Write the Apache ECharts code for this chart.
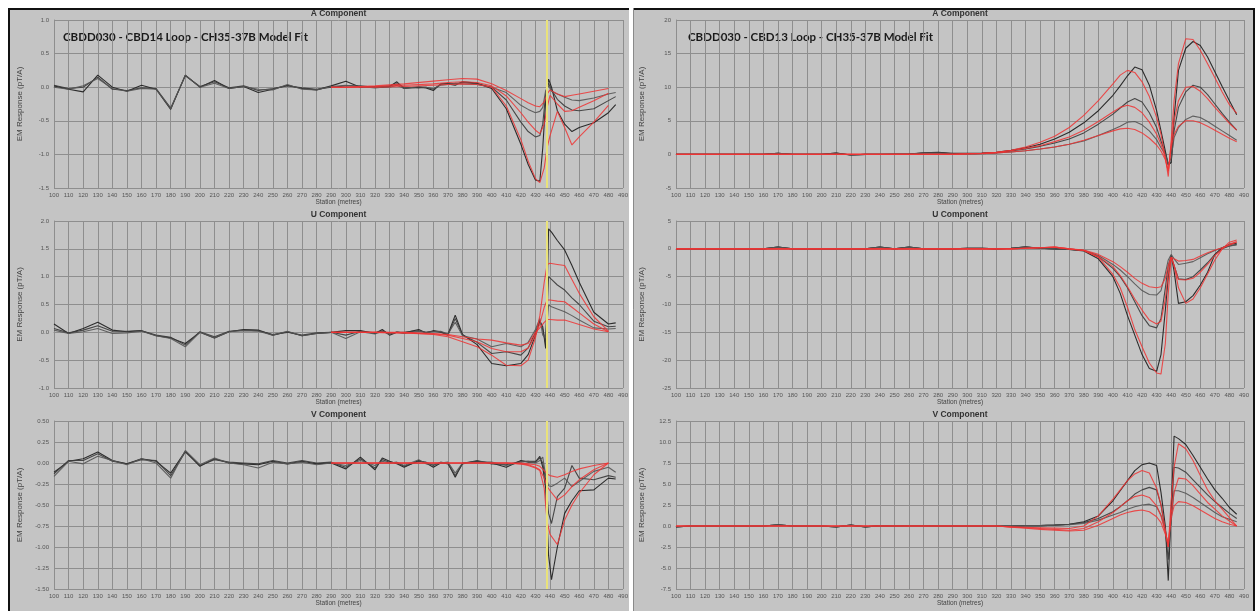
<!DOCTYPE html>
<html>
<head>
<meta charset="utf-8">
<script src="https://cdn.jsdelivr.net/npm/echarts@6/dist/echarts.min.js"></script>
<style>
html,body{margin:0;padding:0;background:#fff}
#chart{width:1257px;height:611px}
</style>
</head>
<body>
<div id="chart"></div>
<script>
// stations (metres)
var L_obsX = [100,110,120,130,140,150,160,170,180,190,200,210,220,230,240,250,260,270,280,290,
  300,310,320,325,330,335,340,350,355,360,365,370,375,380,390,400,410,420,425,430,
  433,435,437,439,441,445,450,455,460,470,480,485];
var L_modX = [290,300,320,340,360,370,380,390,400,410,420,425,430,433,436,438,440,445,450,455,460,470,480];
var R_x = [100,110,120,130,140,150,160,170,180,190,200,210,220,230,240,250,260,270,280,290,300,310,320,
  330,340,350,360,370,380,390,400,405,410,415,420,425,430,433,436,438,440,442,445,
  450,455,460,465,470,475,480,485];

// CBD14 loop - A component
var LA_obs1 = [0.02,-0.03,-0.07,0.18,0.0,-0.06,0.03,-0.03,-0.33,0.18,0.0,0.10,-0.02,0.01,-0.08,-0.03,0.03,-0.02,-0.04,0.02,
  0.09,0.0,0.01,0.0,0.01,0.08,-0.02,0.0,-0.01,-0.05,0.05,0.05,0.03,0.08,0.06,-0.02,-0.32,-0.85,-1.15,-1.38,
  -1.40,-0.9,-0.2,0.12,0.0,-0.35,-0.55,-0.66,-0.6,-0.53,-0.38,-0.26];
var LA_obs2 = [0.03,-0.02,0.0,0.15,-0.03,-0.05,-0.01,-0.02,-0.31,0.17,0.01,0.08,-0.01,0.02,-0.05,-0.02,0.02,-0.01,-0.03,0.0,
  0.02,0.02,0.0,0.01,0.02,0.05,0.0,-0.01,0.0,-0.03,0.04,0.06,0.05,0.07,0.05,0.0,-0.19,-0.52,-0.66,-0.74,
  -0.72,-0.55,-0.1,0.06,-0.04,-0.18,-0.28,-0.34,-0.35,-0.32,-0.2,-0.14];
var LA_obs3 = [0.0,-0.03,0.02,0.13,-0.02,-0.06,-0.02,-0.03,-0.32,0.18,0.0,0.06,-0.02,0.01,-0.03,-0.04,0.04,-0.03,-0.04,0.01,
  0.03,0.01,-0.01,0.0,0.0,0.03,-0.02,0.01,0.0,-0.02,0.03,0.04,0.06,0.05,0.04,0.0,-0.08,-0.27,-0.33,-0.38,
  -0.36,-0.3,-0.05,0.02,-0.06,-0.1,-0.15,-0.19,-0.2,-0.16,-0.1,-0.08];
var LA_mod1 = [0,0,0,0.01,0.03,0.04,0.05,0.04,0.0,-0.28,-0.78,-1.1,-1.36,-1.42,-1.2,-0.9,-0.72,-0.36,-0.6,-0.86,-0.74,-0.52,-0.27];
var LA_mod2 = [0,0,0.01,0.03,0.05,0.07,0.08,0.07,0.02,-0.13,-0.38,-0.52,-0.64,-0.69,-0.55,-0.3,-0.12,-0.25,-0.36,-0.35,-0.3,-0.2,-0.09];
var LA_mod3 = [0,0,0.02,0.05,0.09,0.11,0.13,0.12,0.05,-0.05,-0.17,-0.23,-0.28,-0.29,-0.22,-0.1,-0.04,-0.1,-0.14,-0.12,-0.1,-0.06,-0.02];

// CBD14 loop - U component
var LU_obs1 = [0.15,-0.02,0.07,0.18,0.04,0.01,0.03,-0.06,-0.1,-0.2,0.0,-0.1,0.01,0.05,0.04,-0.05,0.01,-0.06,-0.02,0.0,
  0.03,0.03,-0.02,0.05,-0.05,0.0,-0.01,0.05,-0.01,0.03,0.01,-0.04,0.31,-0.04,-0.22,-0.56,-0.6,-0.56,-0.4,-0.05,
  0.2,0.1,-0.29,1.86,1.8,1.65,1.48,1.2,0.9,0.36,0.15,0.17];
var LU_obs2 = [0.07,-0.01,0.04,0.12,0.02,0.02,0.03,-0.05,-0.09,-0.23,0.01,-0.08,0.02,0.04,0.03,-0.04,0.0,-0.05,-0.01,0.0,
  -0.05,0.02,-0.01,0.03,-0.03,0.0,0.0,0.03,0.0,0.02,0.0,-0.05,0.25,-0.05,-0.18,-0.38,-0.35,-0.41,-0.28,0.0,
  0.22,0.05,-0.2,1.0,0.95,0.85,0.76,0.62,0.5,0.2,0.1,0.11];
var LU_obs3 = [0.04,-0.02,0.01,0.07,-0.02,-0.01,0.02,-0.06,-0.11,-0.26,0.0,-0.1,0.01,0.03,0.02,-0.05,0.02,-0.06,-0.02,0.0,
  -0.11,0.01,-0.03,0.02,-0.04,0.01,-0.02,0.02,0.0,0.01,0.02,-0.03,0.18,-0.06,-0.12,-0.26,-0.2,-0.26,-0.18,0.05,
  0.25,-0.05,-0.1,0.49,0.46,0.42,0.37,0.3,0.22,0.08,0.06,0.07];
var LU_mod1 = [0,0,0,-0.01,-0.04,-0.08,-0.17,-0.26,-0.41,-0.59,-0.6,-0.5,-0.1,0.3,0.9,1.22,1.24,1.22,1.2,0.95,0.7,0.28,0.02];
var LU_mod2 = [0,0,0,-0.01,-0.03,-0.05,-0.11,-0.17,-0.29,-0.35,-0.35,-0.28,-0.05,0.15,0.45,0.58,0.58,0.56,0.55,0.45,0.35,0.15,0.01];
var LU_mod3 = [0,0,0,0,-0.02,-0.04,-0.08,-0.12,-0.14,-0.19,-0.23,-0.2,0.0,0.08,0.18,0.23,0.23,0.22,0.22,0.18,0.14,0.06,0.01];

// CBD14 loop - V component
var LV_obs1 = [-0.11,0.02,0.05,0.13,0.03,-0.01,0.05,0.02,-0.12,0.14,-0.04,0.05,0.0,-0.01,-0.02,0.02,-0.01,0.02,-0.01,0.0,
  -0.07,0.07,-0.08,0.06,0.02,-0.01,-0.05,0.03,0.0,-0.05,0.0,0.0,-0.17,0.0,0.02,0.0,-0.05,0.03,0.01,0.01,
  0.08,-0.05,-0.3,-1.1,-1.39,-1.0,-0.6,-0.45,-0.33,-0.32,-0.18,-0.19];
var LV_obs2 = [-0.13,0.03,0.03,0.11,0.02,-0.01,0.04,0.03,-0.15,0.13,-0.03,0.04,0.01,0.0,-0.01,0.03,0.0,0.03,0.0,0.01,
  -0.05,0.05,-0.06,0.04,0.01,0.0,-0.04,0.02,0.01,-0.03,0.01,-0.01,-0.15,-0.01,0.03,-0.01,-0.02,0.02,0.02,0.02,
  0.06,0.0,-0.2,-0.6,-0.72,-0.4,-0.3,-0.03,-0.18,-0.2,-0.15,-0.17];
var LV_obs3 = [-0.16,0.02,-0.01,0.08,0.03,-0.02,0.05,0.0,-0.18,0.15,-0.02,0.06,0.0,-0.02,-0.06,0.01,-0.01,0.01,-0.02,0.0,
  -0.03,0.03,-0.03,0.02,0.0,0.01,-0.03,0.04,-0.01,-0.02,0.0,0.01,-0.12,0.0,0.01,0.01,-0.03,0.01,0.02,0.0,
  0.03,0.07,-0.15,-0.27,-0.28,-0.24,-0.18,-0.28,-0.22,-0.1,-0.05,-0.11];
var LV_mod1 = [0,0,0,0,0,0,0,0,0,0,-0.01,-0.03,-0.06,-0.09,-0.3,-0.7,-0.85,-0.97,-0.68,-0.5,-0.36,-0.14,0.0];
var LV_mod2 = [0,0,0,0,0,0,0,0,0,0,-0.01,-0.02,-0.05,-0.08,-0.18,-0.28,-0.33,-0.44,-0.38,-0.28,-0.2,-0.08,0.0];
var LV_mod3 = [0,0,0,0,0,0,0,0,0,0,0,-0.01,-0.02,-0.04,-0.09,-0.13,-0.15,-0.17,-0.14,-0.1,-0.07,-0.03,0.0];

// CBD13 loop - A component
var RA_obs1 = [0,0,0,0,0,0,0,0.15,0,0,0,0.2,-0.1,0,0,0.05,0.05,0.25,0.3,0.15,0.15,0.2,0.3,
  0.6,1.0,1.5,2.3,3.3,4.7,6.5,8.8,10.2,11.7,13.0,12.6,10.3,6.5,3.5,0.5,-1.6,-1.2,5.5,12.5,
  15.8,16.8,16.2,14.5,12.3,10.1,8.0,5.9];
var RA_obs2 = [0,0,0,0,0,0,0,0.15,0,0,0,0.2,-0.1,0,0,0,0.05,0.2,0.25,0.1,0.1,0.15,0.25,
  0.5,0.8,1.2,1.7,2.3,3.2,4.5,6.0,6.9,7.8,8.3,7.8,6.2,4.0,2.0,0.2,-1.5,-1.2,3.5,7.0,
  9.3,10.3,10.0,8.9,7.5,6.1,4.8,3.6];
var RA_obs3 = [0,0,0,0,0,0,0,0.15,0,0,0,0.15,-0.1,0,0,0,0.05,0.2,0.2,0.1,0.05,0.1,0.2,
  0.35,0.55,0.8,1.1,1.5,2.0,2.8,3.7,4.2,4.8,4.9,4.4,3.5,2.2,1.0,0.0,-1.5,-0.5,2.5,4.0,
  5.2,5.7,5.5,4.9,4.2,3.5,2.8,2.1];
var RA_mod1 = [0,0,0,0,0,0,0,0,0,0,0,0,0,0,0,0,0,0,0,0,0.1,0.15,0.3,
  0.6,1.1,1.8,2.7,4.0,5.8,8.0,10.5,11.8,12.5,12.2,10.8,8.6,5.5,3.0,-0.5,-3.3,2.0,8.0,13.5,
  17.2,17.1,15.5,13.5,11.4,9.3,7.4,6.1];
var RA_mod2 = [0,0,0,0,0,0,0,0,0,0,0,0,0,0,0,0,0,0,0,0,0.1,0.15,0.3,
  0.55,0.9,1.3,1.9,2.6,3.6,4.9,6.3,7.0,7.3,7.0,6.2,4.8,3.0,1.5,-0.5,-2.5,1.5,5.0,8.0,
  10.0,10.1,9.4,8.3,7.0,5.8,4.6,3.6];
var RA_mod3 = [0,0,0,0,0,0,0,0,0,0,0,0,0,0,0,0,0,0,0,0,0.05,0.1,0.2,
  0.35,0.55,0.8,1.1,1.5,2.1,2.8,3.5,3.8,3.9,3.7,3.2,2.4,1.4,0.5,-0.8,-2.5,1.0,3.0,4.2,
  5.0,5.0,4.7,4.2,3.6,3.0,2.4,1.9];

// CBD13 loop - U component
var RU_obs1 = [0,0,0,0,0,0,0,0.3,0,0,0,0,0,0,0.3,0,0.3,0,0,0,0.1,0.1,0.0,
  0.1,0.35,0.1,0.0,-0.1,-0.4,-1.8,-5.0,-8.0,-12.0,-15.5,-19.0,-21.5,-22.0,-19.0,-11.0,-5.0,-1.2,-4.0,-9.8,
  -9.5,-8.4,-6.5,-4.2,-1.0,0.2,0.8,1.0];
var RU_obs2 = [0,0,0,0,0,0,0,0.3,0,0,0,0,0,0,0.3,0,0.3,0,0,0,0.1,0.1,0.0,
  0.1,0.3,0.1,0.0,-0.1,-0.3,-1.4,-3.5,-5.0,-7.0,-9.5,-12.0,-13.8,-14.2,-12.5,-7.0,-3.0,-1.2,-3.0,-5.4,
  -5.5,-5.0,-3.8,-2.5,-1.0,0.0,0.5,0.8];
var RU_obs3 = [0,0,0,0,0,0,0,0.3,0,0,0,0,0,0,0.3,0,0.3,0,0,0,0.1,0.1,0.0,
  0.1,0.3,0.1,0.0,-0.05,-0.25,-1.2,-2.8,-3.8,-5.0,-6.3,-7.5,-8.2,-8.3,-7.5,-4.4,-2.0,-1.0,-1.8,-2.8,
  -2.6,-2.3,-1.6,-0.9,-0.3,0.2,0.5,0.7];
var RU_mod1 = [0,0,0,0,0,0,0,0,0,0,0,0,0,0,0,0,0,0,0,0,0,0,0,
  0.0,0.1,0.2,0.3,0.0,-0.3,-1.5,-4.6,-7.0,-10.5,-14.5,-17.6,-20.5,-22.3,-22.5,-17.0,-8.0,-1.5,-3.0,-7.0,
  -9.8,-9.0,-7.0,-4.5,-2.0,0.0,1.2,1.6];
var RU_mod2 = [0,0,0,0,0,0,0,0,0,0,0,0,0,0,0,0,0,0,0,0,0,0,0,
  0.0,0.1,0.2,0.3,0.0,-0.3,-1.4,-3.2,-4.8,-6.8,-9.0,-11.0,-12.8,-13.5,-13.0,-9.0,-4.5,-1.5,-3.0,-5.5,
  -5.6,-5.3,-4.2,-2.8,-1.2,0.0,0.8,1.3];
var RU_mod3 = [0,0,0,0,0,0,0,0,0,0,0,0,0,0,0,0,0,0,0,0,0,0,0,
  0.0,0.1,0.2,0.3,0.0,-0.2,-1.0,-2.3,-3.2,-4.2,-5.3,-6.2,-6.8,-7.0,-6.8,-5.3,-3.0,-1.5,-1.8,-2.2,
  -2.1,-1.9,-1.3,-0.7,-0.2,0.2,0.7,1.2];

// CBD13 loop - V component
var RV_obs1 = [-0.1,0,0,0,0,0,0,0.15,0,0,0,-0.1,0.1,-0.1,0.05,0,0.05,0.05,0,0,0,0,0,
  0.0,0.05,0.05,0.1,0.2,0.5,1.2,3.0,4.2,5.4,6.6,7.3,7.5,7.2,4.0,0.0,-6.5,2.0,10.7,10.4,
  9.7,8.4,7.0,5.6,4.3,3.3,2.2,1.4];
var RV_obs2 = [-0.1,0,0,0,0,0,0,0.15,0,0,0,-0.1,0.1,-0.1,0.05,0,0.05,0.05,0,0,0,0,0,
  0.0,0.05,0.05,0.1,0.2,0.4,0.9,1.7,2.3,3.0,3.8,4.3,4.6,4.3,2.5,-0.5,-4.0,1.0,7.0,6.9,
  6.4,5.5,4.6,3.7,2.9,2.2,1.5,0.9];
var RV_obs3 = [-0.1,0,0,0,0,0,0,0.15,0,0,0,-0.1,0.1,-0.1,0.05,0,0.05,0.05,0,0,0,0,0,
  0.0,0.05,0.05,0.1,0.15,0.3,0.7,1.3,1.6,2.0,2.3,2.5,2.6,2.3,1.3,-0.5,-2.5,0.5,4.2,4.2,
  3.9,3.4,2.8,2.2,1.6,1.1,0.8,0.5];
var RV_mod1 = [0,0,0,0,0,0,0,0,0,0,0,0,0,0,0,0,0,0,0,0,0,0,0,
  -0.1,-0.15,-0.2,-0.25,-0.3,0.0,1.2,3.2,4.3,5.4,6.2,6.6,6.3,4.5,2.5,-0.5,-2.5,3.0,7.0,9.8,
  9.2,7.8,6.0,4.3,3.0,2.0,1.0,0.0];
var RV_mod2 = [0,0,0,0,0,0,0,0,0,0,0,0,0,0,0,0,0,0,0,0,0,0,0,
  -0.1,-0.2,-0.3,-0.4,-0.5,-0.3,0.5,1.6,2.3,3.0,3.5,3.7,3.4,2.4,1.2,-0.8,-2.5,1.5,4.0,5.7,
  5.6,4.8,3.8,2.8,2.0,1.2,0.6,0.0];
var RV_mod3 = [0,0,0,0,0,0,0,0,0,0,0,0,0,0,0,0,0,0,0,0,0,0,0,
  -0.15,-0.25,-0.4,-0.5,-0.6,-0.5,0.1,0.9,1.3,1.6,1.8,1.9,1.7,1.1,0.4,-1.0,-2.0,1.0,2.4,2.9,
  2.8,2.4,1.9,1.4,0.9,0.5,0.2,0.0];

var yellowStation = 438;
var titles = ['A Component', 'U Component', 'V Component'];

var myChart = echarts.init(document.getElementById('chart'));

function pairs(xs, ys) {
  var out = [];
  for (var i = 0; i < xs.length; i++) out.push([xs[i], ys[i]]);
  return out;
}

var tops = [20, 221, 421];
var heights = [168, 167, 168];
var panels = [
  {left: 54, width: 569, row: 0, min: -1.5, max: 1.0, step: 0.5, dec: 1, obsX: L_obsX, modX: L_modX, obs: [LA_obs1, LA_obs2, LA_obs3], mod: [LA_mod1, LA_mod2, LA_mod3], yellow: true},
  {left: 54, width: 569, row: 1, min: -1.0, max: 2.0, step: 0.5, dec: 1, obsX: L_obsX, modX: L_modX, obs: [LU_obs1, LU_obs2, LU_obs3], mod: [LU_mod1, LU_mod2, LU_mod3], yellow: true},
  {left: 54, width: 569, row: 2, min: -1.5, max: 0.5, step: 0.25, dec: 2, obsX: L_obsX, modX: L_modX, obs: [LV_obs1, LV_obs2, LV_obs3], mod: [LV_mod1, LV_mod2, LV_mod3], yellow: true},
  {left: 676, width: 568, row: 0, min: -5, max: 20, step: 5, dec: 0, obsX: R_x, modX: R_x, obs: [RA_obs1, RA_obs2, RA_obs3], mod: [RA_mod1, RA_mod2, RA_mod3], yellow: false},
  {left: 676, width: 568, row: 1, min: -25, max: 5, step: 5, dec: 0, obsX: R_x, modX: R_x, obs: [RU_obs1, RU_obs2, RU_obs3], mod: [RU_mod1, RU_mod2, RU_mod3], yellow: false},
  {left: 676, width: 568, row: 2, min: -7.5, max: 12.5, step: 2.5, dec: 1, obsX: R_x, modX: R_x, obs: [RV_obs1, RV_obs2, RV_obs3], mod: [RV_mod1, RV_mod2, RV_mod3], yellow: false}
];

var gridColor = '#8e8e8e';
var obsColors = ['#1c1c1c', '#3a3a3a', '#555555'];
var redColor = '#ee3434';

var grids = [], xAxes = [], yAxes = [], series = [];
var graphics = [
  // white margins around the two panels
  {type: 'rect', shape: {x: 0, y: 0, width: 1257, height: 8}, style: {fill: '#fff'}},
  {type: 'rect', shape: {x: 0, y: 0, width: 8, height: 611}, style: {fill: '#fff'}},
  {type: 'rect', shape: {x: 629, y: 0, width: 4, height: 611}, style: {fill: '#fff'}},
  {type: 'rect', shape: {x: 1255, y: 0, width: 2, height: 611}, style: {fill: '#fff'}},
  {type: 'line', shape: {x1: 8, y1: 9, x2: 629, y2: 9}, style: {stroke: '#111', lineWidth: 2}},
  {type: 'line', shape: {x1: 9, y1: 8, x2: 9, y2: 611}, style: {stroke: '#111', lineWidth: 2}},
  {type: 'line', shape: {x1: 633, y1: 9, x2: 1255, y2: 9}, style: {stroke: '#111', lineWidth: 2}},
  {type: 'line', shape: {x1: 1254, y1: 8, x2: 1254, y2: 611}, style: {stroke: '#111', lineWidth: 2}},
  {type: 'line', shape: {x1: 633.5, y1: 8, x2: 633.5, y2: 611}, style: {stroke: '#8a8a8a', lineWidth: 1}},
  {type: 'text', x: 63, y: 37, style: {text: 'CBDD030 - CBD14 Loop - CH35-37B Model Fit', font: 'bold 11.5px Lato', fill: '#1a1a1a', textVerticalAlign: 'middle', verticalAlign: 'middle'}},
  {type: 'text', x: 688, y: 37, style: {text: 'CBDD030 - CBD13 Loop - CH35-37B Model Fit', font: 'bold 11.5px Lato', fill: '#1a1a1a', textVerticalAlign: 'middle', verticalAlign: 'middle'}}
];

panels.forEach(function (p, i) {
  var top = tops[p.row];
  grids.push({left: p.left, top: top, width: p.width, height: heights[p.row]});
  graphics.push({type: 'text', x: p.left + p.width / 2, y: top - 6,
    style: {text: titles[p.row], font: 'bold 8.5px "Liberation Sans"', fill: '#333',
      textAlign: 'center', align: 'center', textVerticalAlign: 'middle', verticalAlign: 'middle'}});
  xAxes.push({
    gridIndex: i, type: 'value', min: 100, max: 490, interval: 10,
    name: 'Station (metres)', nameLocation: 'middle', nameGap: 11,
    nameTextStyle: {fontSize: 6.5, color: '#444', fontFamily: 'Liberation Sans'},
    axisLine: {show: true, lineStyle: {color: gridColor}},
    axisTick: {show: false},
    axisLabel: {fontSize: 6, color: '#555', margin: 4, fontFamily: 'Liberation Sans', showMaxLabel: true, showMinLabel: true},
    splitLine: {show: true, lineStyle: {color: gridColor, width: 1}}
  });
  yAxes.push({
    gridIndex: i, type: 'value', min: p.min, max: p.max, interval: p.step,
    name: 'EM Response (pT/A)', nameLocation: 'middle', nameGap: 30,
    nameTextStyle: {fontSize: 8, color: '#444', fontFamily: 'Liberation Sans'},
    axisLine: {show: true, lineStyle: {color: gridColor}},
    axisTick: {show: false},
    axisLabel: {fontSize: 6, color: '#555', margin: 5, fontFamily: 'Liberation Sans',
      formatter: (function (d) { return function (v) { return v.toFixed(d); }; })(p.dec)},
    splitLine: {show: true, lineStyle: {color: gridColor, width: 1}}
  });
  if (p.yellow) {
    series.push({
      type: 'line', xAxisIndex: i, yAxisIndex: i, z: 1, silent: true, showSymbol: false,
      data: [[yellowStation, 0]], lineStyle: {opacity: 0},
      markLine: {silent: true, symbol: ['none', 'none'], label: {show: false},
        lineStyle: {color: '#e9e27a', width: 2, type: 'solid'},
        data: [{xAxis: yellowStation}]}
    });
  }
  p.obs.forEach(function (vals, k) {
    series.push({
      type: 'line', xAxisIndex: i, yAxisIndex: i, z: 2, silent: true, showSymbol: false,
      data: pairs(p.obsX, vals),
      lineStyle: {color: obsColors[k], width: 1.1, opacity: 0.9}
    });
  });
  p.mod.forEach(function (vals) {
    series.push({
      type: 'line', xAxisIndex: i, yAxisIndex: i, z: 3, silent: true, showSymbol: false,
      data: pairs(p.modX, vals),
      lineStyle: {color: redColor, width: 1.1, opacity: 0.85}
    });
  });
});

option = {
  backgroundColor: '#c4c4c4',
  animation: false,
  grid: grids,
  xAxis: xAxes,
  yAxis: yAxes,
  series: series,
  graphic: graphics
};
myChart.setOption(option);
</script>
</body>
</html>
